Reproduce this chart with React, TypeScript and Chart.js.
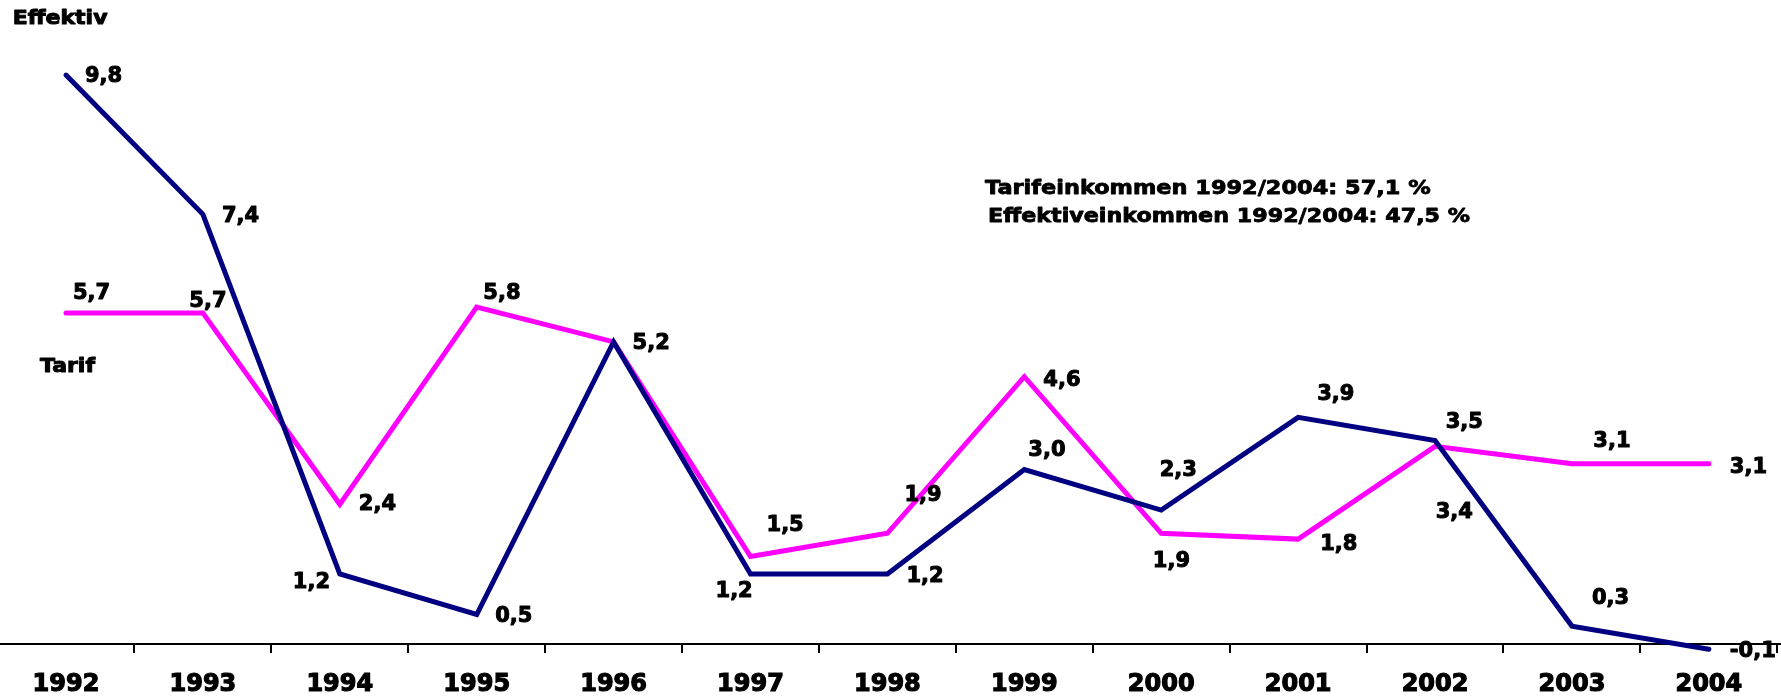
import React, { useEffect, useRef } from "react";
import { Chart, registerables } from "chart.js";

Chart.register(...registerables);

// ---- data ----
const years = [1992, 1993, 1994, 1995, 1996, 1997, 1998, 1999, 2000, 2001, 2002, 2003, 2004];
const effektiv = [9.8, 7.4, 1.2, 0.5, 5.2, 1.2, 1.2, 3.0, 2.3, 3.9, 3.5, 0.3, -0.1];
const tarif = [5.7, 5.7, 2.4, 5.8, 5.2, 1.5, 1.9, 4.6, 1.9, 1.8, 3.4, 3.1, 3.1];
const seriesNames = ["Effektiv", "Tarif"];
const noteLines = [
  "Tarifeinkommen 1992/2004: 57,1 %",
  "Effektiveinkommen 1992/2004: 47,5 %",
];

// ---- label placement (styling: offsets of value labels relative to the point) ----
const effektivLabelOffsets: ([number, number] | null)[] = [
  [19, 1], [19, 2.5], [-47, 9], [18.5, 2], [19, 1.5], [-35, 18], [19, 3],
  [4, -18.5], [-1.6, -40], [19, -23], [10.7, -17.7], [20, -27.7], [21, 2.4],
];
const tarifLabelOffsets: ([number, number] | null)[] = [
  [7, -19.5], [-13.6, -11.5], [19, 0], [6.6, -13.4], null, [16, -30.6], [17, -38],
  [19, 3.6], [-8.4, 27.8], [22, 5], [0.6, 66], [21.4, -22.5], [21, 3.5],
];

const FONT = "'DejaVu Sans', 'Liberation Sans', Arial, sans-serif";
const NAVY = "#000080";
const MAGENTA = "#FF00FF";

const fmt = (v: number) => v.toFixed(1).replace(".", ",");

function boldText(ctx: CanvasRenderingContext2D, text: string, x: number, y: number, stroke: number) {
  ctx.fillText(text, x, y);
  if (stroke > 0) {
    ctx.lineWidth = stroke;
    ctx.lineJoin = "round";
    ctx.strokeStyle = "#000";
    ctx.strokeText(text, x, y);
  }
}

function drawStretched(ctx: CanvasRenderingContext2D, text: string, x: number, y: number, size: number, sx: number, stroke: number) {
  ctx.save();
  ctx.translate(x, y);
  ctx.scale(sx, 1);
  ctx.font = `bold ${size}px ${FONT}`;
  ctx.textAlign = "left";
  ctx.textBaseline = "alphabetic";
  boldText(ctx, text, 0, 0, stroke);
  ctx.restore();
}

const textPlugin = {
  id: "valueTexts",
  afterDatasetsDraw(chart: any) {
    const ctx: CanvasRenderingContext2D = chart.ctx;
    ctx.save();
    ctx.fillStyle = "#000";
    ctx.font = `bold 21px ${FONT}`;
    ctx.textAlign = "left";
    ctx.textBaseline = "middle";
    const sets = [
      { idx: 0, values: effektiv, offs: effektivLabelOffsets },
      { idx: 1, values: tarif, offs: tarifLabelOffsets },
    ];
    sets.forEach(({ idx, values, offs }) => {
      const meta = chart.getDatasetMeta(idx);
      values.forEach((v, i) => {
        const o = offs[i];
        const el = meta.data[i];
        if (!o || !el) return;
        boldText(ctx, fmt(v), el.x + o[0], el.y + o[1], 1);
      });
    });
    // series names
    drawStretched(ctx, seriesNames[0], 12.7, 24.3, 20, 1.1, 1);
    drawStretched(ctx, seriesNames[1], 40, 371.5, 20, 1.1, 1);
    // note
    drawStretched(ctx, noteLines[0], 985, 194, 19, 1.18, 0.8);
    drawStretched(ctx, noteLines[1], 988, 221.5, 19, 1.17, 0.8);
    ctx.restore();
  },
};

export default function App() {
  const ref = useRef<HTMLCanvasElement | null>(null);

  useEffect(() => {
    if (!ref.current) return;
    const chart = new Chart(ref.current, {
      type: "line",
      data: {
        datasets: [
          {
            label: seriesNames[0],
            data: years.map((y, i) => ({ x: y, y: effektiv[i] })),
            borderColor: NAVY,
            backgroundColor: NAVY,
            borderWidth: 5,
            borderCapStyle: "round",
            borderJoinStyle: "miter",
            pointRadius: 0,
            tension: 0,
            clip: false as any,
          },
          {
            label: seriesNames[1],
            data: years.map((y, i) => ({ x: y, y: tarif[i] })),
            borderColor: MAGENTA,
            backgroundColor: MAGENTA,
            borderWidth: 5,
            borderCapStyle: "round",
            borderJoinStyle: "miter",
            pointRadius: 0,
            tension: 0,
            clip: false as any,
          },
        ],
      },
      options: {
        responsive: false,
        animation: false,
        layout: { padding: 0 },
        plugins: {
          legend: { display: false },
          tooltip: { enabled: false },
        },
        scales: {
          x: {
            type: "linear",
            position: { y: 0 } as any,
            min: 1991.518,
            max: 2004.527,
            afterBuildTicks: (axis: any) => {
              axis.ticks = years.map((v) => ({ value: v }));
            },
            grid: {
              display: true,
              drawOnChartArea: false,
              drawTicks: true,
              tickLength: 8,
              offset: true,
              color: "#000",
              lineWidth: 2,
            },
            border: { display: true, color: "#000", width: 2 },
            ticks: {
              autoSkip: false,
              maxRotation: 0,
              padding: 18.5,
              color: "#000",
              textStrokeColor: "#000",
              textStrokeWidth: 1.2,
              font: { family: FONT, size: 24, weight: "bold" },
              callback: (v: any) => String(v),
            } as any,
          },
          y: {
            display: false,
            min: -0.974,
            max: 11.095,
          },
        },
      },
      plugins: [textPlugin],
    });
    return () => chart.destroy();
  }, []);

  return (
    <div style={{ position: "absolute", left: 0, top: 0, width: 1781, height: 700, background: "#fff" }}>
      <canvas ref={ref} width={1781} height={700} style={{ display: "block", width: 1781, height: 700 }} />
    </div>
  );
}
